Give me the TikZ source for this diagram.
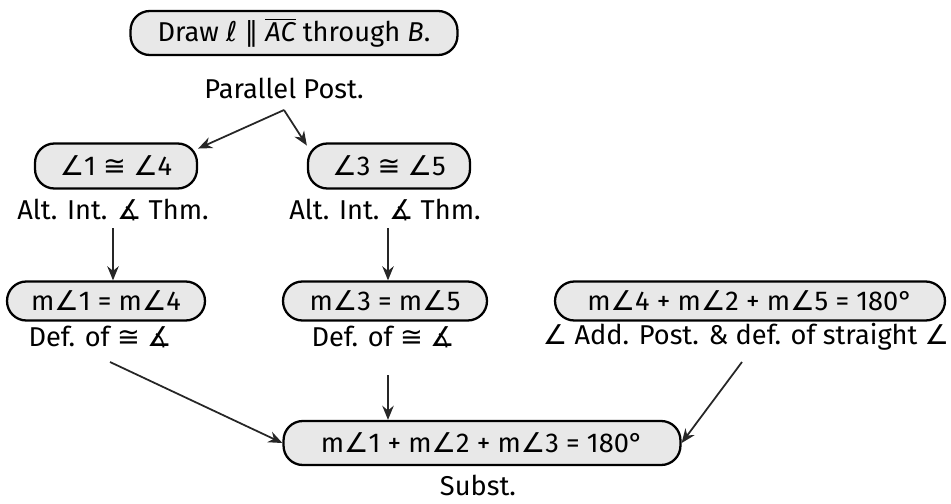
\documentclass[tikz,border=0pt]{standalone}
\usepackage{fontspec}
\setmainfont{Fira Sans}
\newfontfamily\symf{DejaVu Sans}
\usetikzlibrary{arrows.meta}
% symbols taken from DejaVu Sans
\newcommand\angsym{{\symf ∠}}
\newcommand\angssym{{\symf ∡}}
\newcommand\congsym{{\symf ≅}}
\newcommand\parsym{{\symf ∥}}
\newcommand\ellsym{{\symf\itshape ℓ}}
\begin{document}
\begin{tikzpicture}[x=0.02cm, y=-0.02cm,
  font=\fontsize{15.5}{18}\selectfont,
  box/.style={draw, line width=1.3pt, rounded corners=11pt, fill=black!9,
    inner sep=0pt, minimum height=0.78cm},
  reason/.style={inner sep=1pt},
  arr/.style={-{Stealth[length=8pt,width=6.5pt]}, line width=1pt, black!85}]
\useasboundingbox (0,0) rectangle (951,504);

% statements
\node[box, minimum width=6.54cm, minimum height=0.88cm] (s1) at (294,33)
  {Draw \ellsym\ \parsym\ $\overline{\hbox{\itshape AC}}$ through {\itshape B}.};
\node[box, minimum width=3.24cm, minimum height=0.9cm] (s2) at (116,166)
  {\angsym1 \congsym\ \angsym4};
\node[box, minimum width=3.24cm, minimum height=0.9cm] (s3) at (389,166)
  {\angsym3 \congsym\ \angsym5};
\node[box, minimum width=3.96cm] (s4) at (106,301)
  {m\angsym1 = m\angsym4};
\node[box, minimum width=4.08cm] (s5) at (385,301)
  {m\angsym3 = m\angsym5};
\node[box, minimum width=7.8cm] (s6) at (750,301)
  {m\angsym4 + m\angsym2 + m\angsym5 = 180\textdegree};
\node[box, minimum width=7.94cm, minimum height=0.88cm] (s7) at (482,443)
  {m\angsym1 + m\angsym2 + m\angsym3 = 180\textdegree};

% reasons
\node[reason] (r1) at (284,88) {Parallel Post.};
\node[reason] (r2) at (113,210) {Alt. Int. \angssym\ Thm.};
\node[reason] (r3) at (385,210) {Alt. Int. \angssym\ Thm.};
\node[reason] (r4) at (100,337) {Def. of \congsym\ \angssym};
\node[reason] (r5) at (383,337) {Def. of \congsym\ \angssym};
\node[reason] (r6) at (746,337) {\angsym\ Add. Post. \& def. of straight \angsym};
\node[reason] (r7) at (478,485) {Subst.};

% free ends of the connectors
\coordinate (top) at (284,110);
\coordinate (d2) at (113,228);
\coordinate (d3) at (388,228);
\coordinate (d4) at (110,362);
\coordinate (d5) at (388,375);
\coordinate (d6) at (742,362);

% connectors
\draw[arr] (top) -- (s2.12);
\draw[arr] (top) -- (s3.166);
\draw[arr] (d2) -- (d2 |- s4.north);
\draw[arr] (d3) -- (d3 |- s5.north);
\draw[arr] (d4) -- (s7.west);
\draw[arr] (d5) -- (d5 |- s7.north);
\draw[arr] (d6) -- (s7.east);
\end{tikzpicture}
\end{document}
